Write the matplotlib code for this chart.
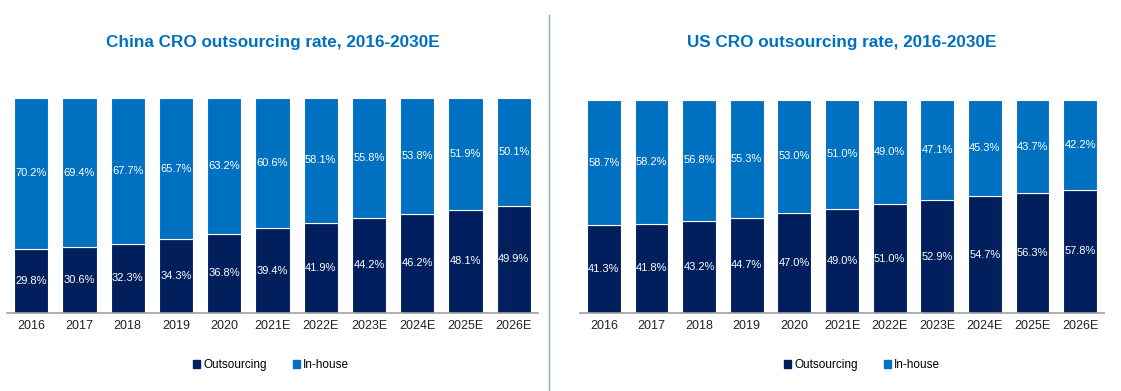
import matplotlib.pyplot as plt
from matplotlib.lines import Line2D
from matplotlib.patches import Patch

years = ["2016", "2017", "2018", "2019", "2020", "2021E", "2022E",
         "2023E", "2024E", "2025E", "2026E"]

china_out = [29.8, 30.6, 32.3, 34.3, 36.8, 39.4, 41.9, 44.2, 46.2, 48.1, 49.9]
china_in = [70.2, 69.4, 67.7, 65.7, 63.2, 60.6, 58.1, 55.8, 53.8, 51.9, 50.1]

us_out = [41.3, 41.8, 43.2, 44.7, 47.0, 49.0, 51.0, 52.9, 54.7, 56.3, 57.8]
us_in = [58.7, 58.2, 56.8, 55.3, 53.0, 51.0, 49.0, 47.1, 45.3, 43.7, 42.2]

NAVY = "#001F5C"
BLUE = "#0070C0"
W, H = 1121, 391

fig = plt.figure(figsize=(W / 100, H / 100), dpi=100)
plt.rcParams["font.family"] = ["Liberation Sans", "DejaVu Sans"]


def panel(rect, out, inh, title, legend_x):
    ax = fig.add_axes(rect)
    x = range(len(years))
    ax.bar(x, out, width=0.71, color=NAVY, edgecolor="white", linewidth=0.8)
    ax.bar(x, inh, bottom=out, width=0.71, color=BLUE, edgecolor="white", linewidth=0.8)
    for i in x:
        ax.text(i, out[i] / 2, f"{out[i]:.1f}%", ha="center", va="center",
                color="white", fontsize=8)
        ax.text(i, out[i] + inh[i] / 2, f"{inh[i]:.1f}%", ha="center", va="center",
                color="white", fontsize=8)
    ax.set_xlim(-0.5, len(years) - 0.5)
    ax.set_ylim(0, 100)
    ax.set_xticks(list(x))
    ax.set_xticklabels(years, fontsize=9, color="#222222")
    ax.tick_params(axis="x", length=0, pad=5)
    ax.set_yticks([])
    for s in ["top", "left", "right"]:
        ax.spines[s].set_visible(False)
    ax.spines["bottom"].set_color("#A0A0A0")
    ax.spines["bottom"].set_linewidth(1.2)
    fig.text(rect[0] + rect[2] / 2, 1 - 42 / H, title, ha="center", va="center",
             color=BLUE, fontsize=12.3, fontweight="bold")
    handles = [Patch(color=NAVY), Patch(color=BLUE)]
    fig.legend(handles, ["Outsourcing", "In-house"], loc="center",
               bbox_to_anchor=(legend_x / W, 1 - 365 / H), ncol=2, frameon=False,
               fontsize=8.5, handlelength=0.6, handleheight=0.6, handletextpad=0.3,
               columnspacing=2.2)
    return ax


panel([7 / W, (H - 313) / H, 531 / W, 215 / H], china_out, china_in,
      "China CRO outsourcing rate, 2016-2030E", 271)
panel([580 / W, (H - 313) / H, 524 / W, 213 / H], us_out, us_in,
      "US CRO outsourcing rate, 2016-2030E", 862)

fig.add_artist(Line2D([549 / W, 549 / W], [0, 1 - 15 / H], color="#8EA4BE",
                      linewidth=1))

fig.savefig("out.png", dpi=100)
